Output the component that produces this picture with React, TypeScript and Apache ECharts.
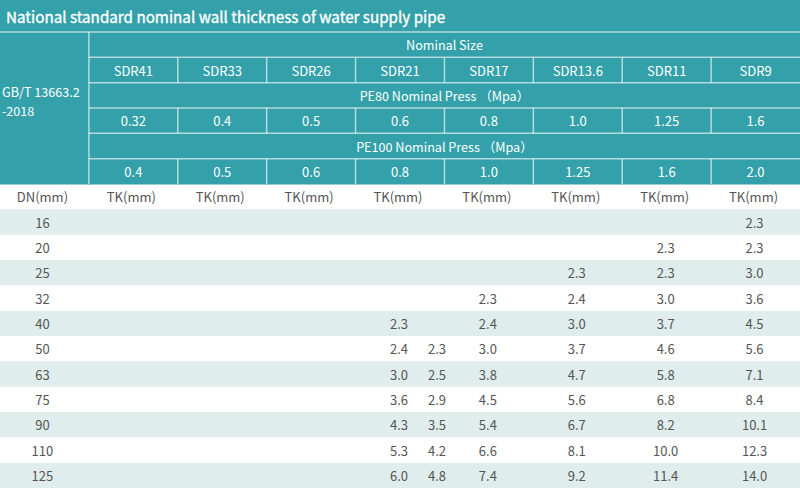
import React, { useEffect, useRef } from 'react';
import * as echarts from 'echarts';

// ---------- data ----------
const TITLE = 'National standard nominal wall thickness of water supply pipe';
const STANDARD_LINES = ['GB/T 13663.2', '-2018'];
const NOMINAL_SIZE = 'Nominal Size';
const PE80_LABEL = 'PE80 Nominal Press （Mpa）';
const PE100_LABEL = 'PE100 Nominal Press （Mpa）';
const sdrLabels = ['SDR41', 'SDR33', 'SDR26', 'SDR21', 'SDR17', 'SDR13.6', 'SDR11', 'SDR9'];
const pe80Press = ['0.32', '0.4', '0.5', '0.6', '0.8', '1.0', '1.25', '1.6'];
const pe100Press = ['0.4', '0.5', '0.6', '0.8', '1.0', '1.25', '1.6', '2.0'];
const DN_HEADER = 'DN(mm)';
const TK_HEADER = 'TK(mm)';
const dnValues = [16, 20, 25, 32, 40, 50, 63, 75, 90, 110, 125];
const sdr41 = [null, null, null, null, null, null, null, null, null, null, null];
const sdr33 = [null, null, null, null, null, null, null, null, null, null, null];
const sdr26 = [null, null, null, null, null, null, null, null, null, null, null];
const sdr21 = [null, null, null, null, 2.3, 2.4, 3.0, 3.6, 4.3, 5.3, 6.0];
// second value shown inside the SDR21 column in the reference
const sdr21Second = [null, null, null, null, null, 2.3, 2.5, 2.9, 3.5, 4.2, 4.8];
const sdr17 = [null, null, null, 2.3, 2.4, 3.0, 3.8, 4.5, 5.4, 6.6, 7.4];
const sdr13_6 = [null, null, 2.3, 2.4, 3.0, 3.7, 4.7, 5.6, 6.7, 8.1, 9.2];
const sdr11 = [null, 2.3, 2.3, 3.0, 3.7, 4.6, 5.8, 6.8, 8.2, 10.0, 11.4];
const sdr9 = [2.3, 2.3, 3.0, 3.6, 4.5, 5.6, 7.1, 8.4, 10.1, 12.3, 14.0];

// ---------- styles ----------
const FONT = '"Noto Sans CJK SC", "Noto Sans", sans-serif';
const TEAL = '#34a1aa';
const LINE = 'rgba(255,255,255,0.62)';
const SHADE = '#e0eded';
const GRAY = '#555555';

type HeaderCell = { x0: number; y0: number; x1: number; y1: number; text: string; span?: boolean };

export default function App() {
  const ref = useRef<HTMLDivElement>(null);
  useEffect(() => {
    document.body.style.margin = '0';
    const chart = echarts.init(ref.current!, null, { renderer: 'svg', width: 800, height: 488 });

    const columns = [sdr41, sdr33, sdr26, sdr21, sdr17, sdr13_6, sdr11, sdr9];
    const HEADER_ROWS = 6;
    const BODY_START = HEADER_ROWS + 1;
    const TOTAL_ROWS = BODY_START + dnValues.length;
    const NCOL = sdrLabels.length + 1;

    // header cells
    const headerCells: HeaderCell[] = [];
    headerCells.push({ x0: 0, y0: 0, x1: 1, y1: HEADER_ROWS, text: '' });
    headerCells.push({ x0: 1, y0: 0, x1: NCOL, y1: 1, text: NOMINAL_SIZE, span: true });
    sdrLabels.forEach((t, i) => headerCells.push({ x0: i + 1, y0: 1, x1: i + 2, y1: 2, text: t }));
    headerCells.push({ x0: 1, y0: 2, x1: NCOL, y1: 3, text: PE80_LABEL, span: true });
    pe80Press.forEach((t, i) => headerCells.push({ x0: i + 1, y0: 3, x1: i + 2, y1: 4, text: t }));
    headerCells.push({ x0: 1, y0: 4, x1: NCOL, y1: 5, text: PE100_LABEL, span: true });
    pe100Press.forEach((t, i) => headerCells.push({ x0: i + 1, y0: 5, x1: i + 2, y1: 6, text: t }));

    // header lines
    const lines: number[][] = [[0, 0, NCOL, 0], [1, 0, 1, HEADER_ROWS]];
    for (let r = 1; r < HEADER_ROWS; r++) lines.push([1, r, NCOL, r]);
    for (let k = 2; k < NCOL; k++) {
      lines.push([k, 1, k, 2]);
      lines.push([k, 3, k, 4]);
      lines.push([k, 5, k, 6]);
    }

    // body shading
    const shadeRows: number[][] = [];
    dnValues.forEach((_, r) => {
      if (r % 2 === 0) shadeRows.push([0, BODY_START + r, NCOL, BODY_START + r + 1]);
    });

    // texts (header-left standard + body)
    const texts: { v: number[]; text: string; white?: boolean; left?: boolean }[] = [];
    texts.push({ v: [0, 2.368, 2], text: STANDARD_LINES[0], white: true, left: true });
    texts.push({ v: [0, 3.099, 2], text: STANDARD_LINES[1], white: true, left: true });
    texts.push({ v: [0.5, HEADER_ROWS + 0.5, -2], text: DN_HEADER });
    for (let c = 0; c < sdrLabels.length; c++) texts.push({ v: [c + 1.5, HEADER_ROWS + 0.5, -2], text: TK_HEADER });
    dnValues.forEach((dn, r) => {
      const y = BODY_START + r + 0.5;
      texts.push({ v: [0.5, y, -2], text: String(dn) });
      columns.forEach((col, c) => {
        const val = col[r];
        if (val != null) texts.push({ v: [c + 1.5, y, -1], text: (val as number).toFixed(1) });
      });
      const second = sdr21Second[r];
      if (second != null) texts.push({ v: [4.5, y, 37], text: (second as number).toFixed(1) });
    });

    const option: any = {
      animation: false,
      backgroundColor: '#ffffff',
      title: {
        text: TITLE,
        left: 6,
        top: 5,
        padding: 0,
        textStyle: {
          color: '#ffffff', fontSize: 15.2, fontWeight: 'normal', fontFamily: FONT, lineHeight: 22,
          textBorderColor: '#ffffff', textBorderWidth: 0.35,
        },
      },
      graphic: [
        { type: 'rect', z: 0, shape: { x: 0, y: 0, width: 800, height: 33 }, style: { fill: TEAL } },
      ],
      grid: { left: 0, right: 0, top: 32, bottom: 0 },
      xAxis: { type: 'value', min: 0, max: NCOL, show: false },
      yAxis: { type: 'value', min: 0, max: TOTAL_ROWS, inverse: true, show: false },
      series: [
        {
          type: 'custom',
          name: 'shade',
          z: 1,
          silent: true,
          data: shadeRows,
          renderItem: (params: any, api: any) => {
            const p0 = api.coord([api.value(0), api.value(1)]);
            const p1 = api.coord([api.value(2), api.value(3)]);
            return { type: 'rect', shape: { x: p0[0], y: p0[1], width: p1[0] - p0[0], height: p1[1] - p0[1] }, style: { fill: SHADE } };
          },
        },
        {
          type: 'custom',
          name: 'header',
          z: 2,
          silent: true,
          data: headerCells.map((c) => [c.x0, c.y0, c.x1, c.y1]),
          renderItem: (params: any, api: any) => {
            const c = headerCells[params.dataIndex];
            const p0 = api.coord([api.value(0), api.value(1)]);
            const p1 = api.coord([api.value(2), api.value(3)]);
            const w = p1[0] - p0[0];
            const h = p1[1] - p0[1];
            return {
              type: 'group',
              children: [
                { type: 'rect', shape: { x: p0[0] - 0.5, y: p0[1] - 0.5, width: w + 1, height: h + 1 }, style: { fill: TEAL } },
                {
                  type: 'text',
                  x: p0[0] + w / 2,
                  y: p0[1] + h / 2,
                  style: {
                    text: c.text,
                    fill: '#ffffff',
                    fontSize: c.span ? 12.6 : 13,
                    fontFamily: FONT,
                    align: 'center',
                    verticalAlign: 'middle',
                  },
                },
              ],
            };
          },
        },
        {
          type: 'custom',
          name: 'lines',
          z: 3,
          silent: true,
          data: lines,
          renderItem: (params: any, api: any) => {
            const p0 = api.coord([api.value(0), api.value(1)]);
            const p1 = api.coord([api.value(2), api.value(3)]);
            return { type: 'line', shape: { x1: p0[0], y1: p0[1], x2: p1[0], y2: p1[1] }, style: { stroke: LINE, lineWidth: 1.5 } };
          },
        },
        {
          type: 'custom',
          name: 'texts',
          z: 4,
          silent: true,
          data: texts.map((t) => t.v),
          renderItem: (params: any, api: any) => {
            const t = texts[params.dataIndex];
            const p = api.coord([api.value(0), api.value(1)]);
            return {
              type: 'text',
              x: p[0] + api.value(2),
              y: p[1],
              style: {
                text: t.text,
                fill: t.white ? '#ffffff' : GRAY,
                fontSize: t.white ? 12.6 : 13,
                fontFamily: FONT,
                align: t.left ? 'left' : 'center',
                verticalAlign: 'middle',
              },
            };
          },
        },
      ],
    };
    chart.setOption(option);
    return () => chart.dispose();
  }, []);
  return <div ref={ref} style={{ width: 800, height: 488 }} />;
}
